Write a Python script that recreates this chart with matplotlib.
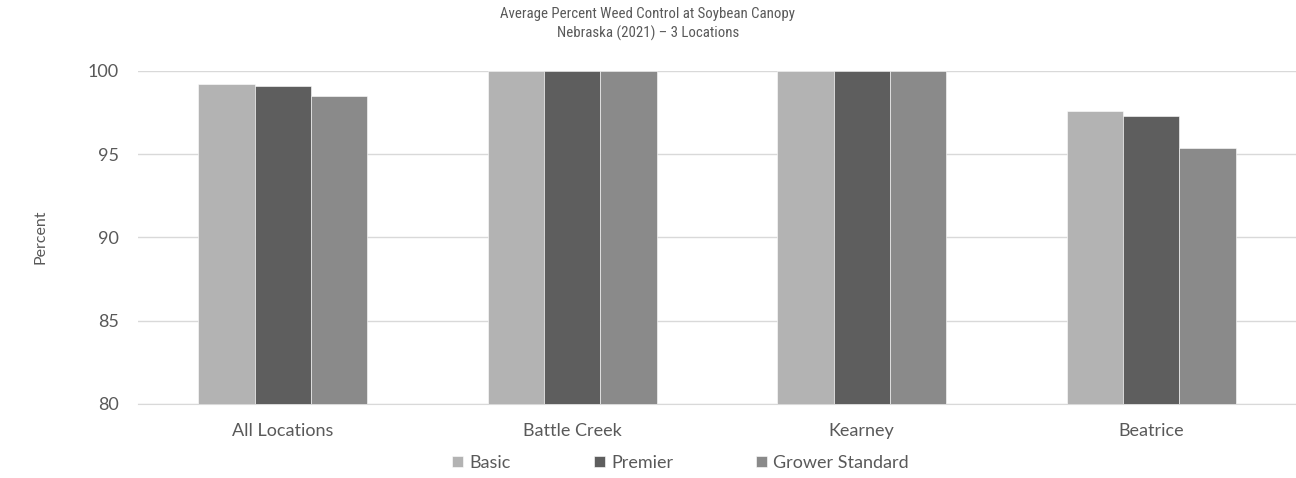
import matplotlib.pyplot as plt
from matplotlib import font_manager
import numpy as np

categories = ['All Locations', 'Battle Creek', 'Kearney', 'Beatrice']
series_names = ['Basic', 'Premier', 'Grower Standard']
basic = [99.2, 100, 100, 97.6]
premier = [99.1, 100, 100, 97.3]
grower_standard = [98.5, 100, 100, 95.4]
colors = ['#b3b3b3', '#5e5e5e', '#8a8a8a']
yticks = [80, 85, 90, 95, 100]
title_lines = ['Average Percent Weed Control at Soybean Canopy',
               'Nebraska (2021) \u2013 3 Locations']

text_color = '#595959'
plt.rcParams['font.family'] = ['Lato', 'DejaVu Sans']

# narrow font for the title if one is around
installed = {f.name for f in font_manager.fontManager.ttflist}
title_font, title_size = 'Liberation Sans', 9.5
for name in ['Liberation Sans Narrow', 'Arial Narrow', 'Roboto Condensed', 'DejaVu Sans Condensed']:
    if name in installed:
        title_font, title_size = name, 10.7
        break

fig = plt.figure(figsize=(12.96, 4.78), dpi=100)
ax = fig.add_axes([138/1296, 1 - 404/478, 1 - 138/1296, (404 - 71)/478])

x = np.arange(len(categories))
width = 0.195
for i, (vals, name) in enumerate(zip([basic, premier, grower_standard], series_names)):
    ax.bar(x + (i - 1) * width, vals, width, color=colors[i], label=name,
           edgecolor='white', linewidth=0.4, zorder=3)

ax.set_xlim(-0.5, len(categories) - 0.5)
ax.set_ylim(80, 100)
ax.set_yticks(yticks)
ax.set_xticks(x)
ax.set_xticklabels(categories)
ax.grid(axis='y', color='#d9d9d9', linewidth=1, zorder=0)
for s in ['top', 'right', 'left']:
    ax.spines[s].set_visible(False)
ax.spines['bottom'].set_color('#d9d9d9')
ax.tick_params(axis='both', length=0, colors=text_color, labelsize=13)
ax.tick_params(axis='y', pad=14)
ax.tick_params(axis='x', pad=14)

fig.text(40/1296, 1 - 237/478, 'Percent', rotation=90, ha='center', va='center',
         color=text_color, fontsize=11.5)

fig.text(0.5, 1 - 14/478, title_lines[0], ha='center', va='center', color=text_color,
         fontsize=title_size, family=[title_font, 'DejaVu Sans'])
fig.text(0.5, 1 - 33/478, title_lines[1], ha='center', va='center', color=text_color,
         fontsize=title_size, family=[title_font, 'DejaVu Sans'])

fig.legend(loc='center left', bbox_to_anchor=(445/1296, 1 - 463/478), ncol=3, frameon=False,
           fontsize=13, handlelength=0.6, handleheight=0.6, handletextpad=0.35,
           columnspacing=4.6, labelcolor=text_color, borderaxespad=0)

fig.savefig('out.png', dpi=100)
